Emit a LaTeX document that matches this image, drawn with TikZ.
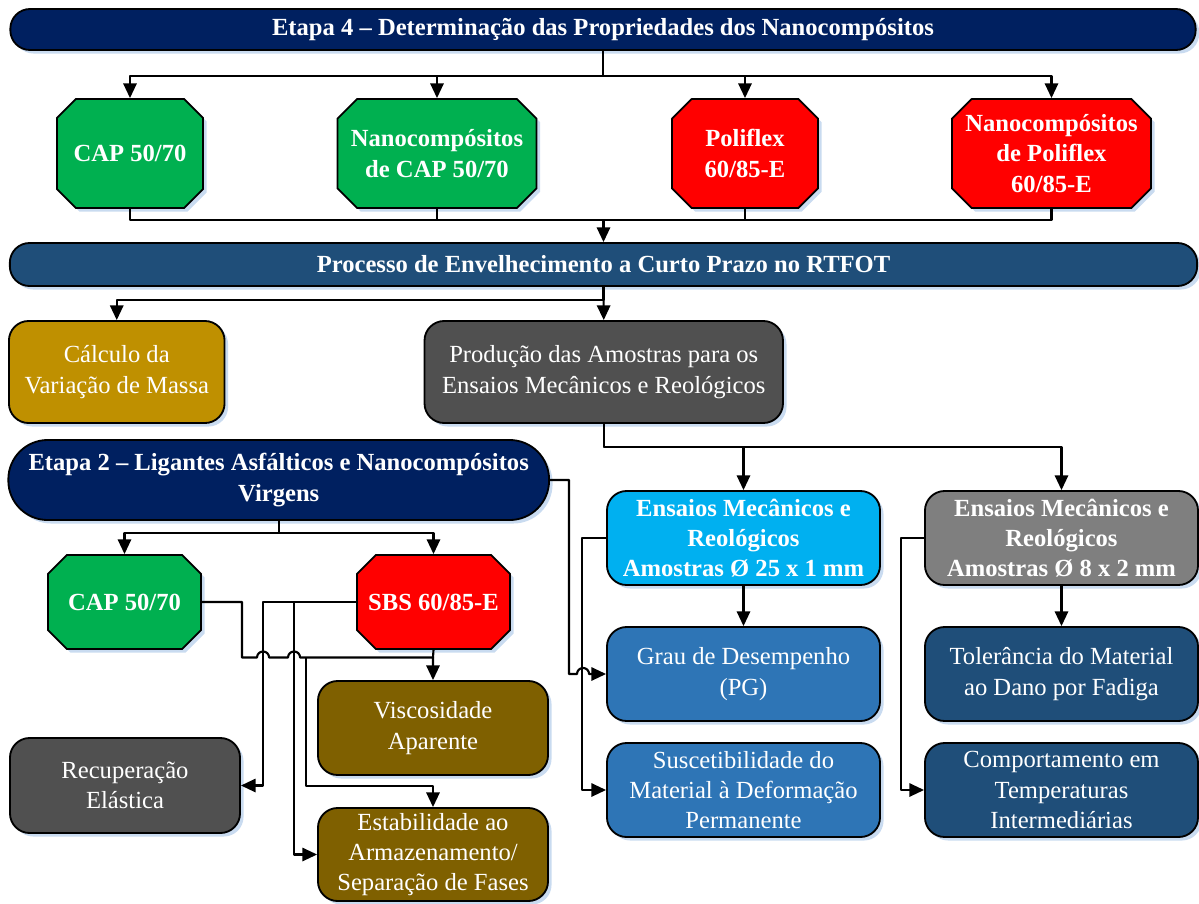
\documentclass[tikz,border=0pt]{standalone}
\usepackage{fontspec}
\setmainfont{Liberation Serif}
\usetikzlibrary{arrows.meta,shapes.misc,shadows}
\definecolor{navyA}{HTML}{002060}
\definecolor{steelB}{HTML}{1F4E79}
\definecolor{greenC}{HTML}{00B050}
\definecolor{goldD}{HTML}{BF9000}
\definecolor{darkE}{HTML}{505050}
\definecolor{cyanF}{HTML}{00B0F0}
\definecolor{grayG}{HTML}{7F7F7F}
\definecolor{blueH}{HTML}{2E75B6}
\definecolor{brownI}{HTML}{7F6000}
\definecolor{shadowJ}{HTML}{C9DBF0}
\begin{document}
\begin{tikzpicture}[x=0.025cm, y=-0.025cm, line width=1.5pt, line join=round,
	>={Triangle[length=10.5pt,width=9.5pt]},
	base/.style={draw=black, line width=1.3pt, text=white, align=center, inner sep=0pt,
		font=\fontsize{17.5}{21.5}\selectfont,
		drop shadow={shadow xshift=2.5pt, shadow yshift=-2.5pt, fill=shadowJ, opacity=1}},
	pill/.style={base, rounded corners=14pt, font=\fontsize{17.5}{21.5}\selectfont\bfseries},
	chbox/.style={base, chamfered rectangle, chamfered rectangle xsep=6.5pt, chamfered rectangle ysep=7.5pt,
		font=\fontsize{17.5}{21.5}\selectfont\bfseries},
	rbox/.style={base, rounded corners=14pt}]
	\useasboundingbox (0,0) rectangle (1199,903);
	% etapa 4
	\node[pill, fill=navyA, minimum width=29.625cm, minimum height=1.025cm] (etapa4) at (603,29.5) {Etapa 4 -- Determinação das Propriedades dos Nanocompósitos};
	\node[chbox, fill=greenC, minimum width=3.65cm, minimum height=2.725cm] (cap1) at (130,153.5) {CAP 50/70};
	\node[chbox, fill=greenC, minimum width=4.975cm, minimum height=2.725cm] (nano1) at (437,153.5) {Nanocompósitos\\de CAP 50/70};
	\node[chbox, fill=red, minimum width=3.65cm, minimum height=2.725cm] (poli) at (745,153.5) {Poliflex\\60/85-E};
	\node[chbox, fill=red, minimum width=4.975cm, minimum height=2.725cm] (nano2) at (1051.5,153.5) {Nanocompósitos\\de Poliflex\\60/85-E};
	\foreach \n in {cap1,nano1,poli,nano2}
		\draw[->] (etapa4.south) -- ++(0,25) -| (\n.north);
	% envelhecimento
	\node[pill, fill=steelB, minimum width=29.675cm, minimum height=1.075cm] (rtfot) at (603.5,264.5) {Processo de Envelhecimento a Curto Prazo no RTFOT};
	\coordinate (j1) at (603.5,220);
	\foreach \n in {cap1,nano1,poli,nano2}
		\draw (\n.south) |- (j1);
	\draw[->] (j1) -- (rtfot.north);
	\node[rbox, fill=goldD, minimum width=5.39cm, minimum height=2.55cm] (calc) at (116.75,372) {Cálculo da\\Variação de Massa};
	\node[rbox, fill=darkE, minimum width=8.96cm, minimum height=2.55cm] (prod) at (603.75,372) {Produção das Amostras para os\\Ensaios Mecânicos e Reológicos};
	\draw[->] (rtfot.south) -- (prod.north);
	\draw[->] (rtfot.south) -- ++(0,13) -| (calc.north);
	% ensaios
	\node[rbox, fill=cyanF, minimum width=6.825cm, minimum height=2.35cm, font=\fontsize{17.5}{21.5}\selectfont\bfseries] (ens25) at (743.5,538) {Ensaios Mecânicos e\\Reológicos\\Amostras Ø 25 x 1 mm};
	\node[rbox, fill=grayG, minimum width=6.825cm, minimum height=2.35cm, font=\fontsize{17.5}{21.5}\selectfont\bfseries] (ens8) at (1061.5,538) {Ensaios Mecânicos e\\Reológicos\\Amostras Ø 8 x 2 mm};
	\draw[->] (prod.south) -- ++(0,23) -| (ens25.north);
	\draw[->] (prod.south) -- ++(0,23) -| (ens8.north);
	\node[rbox, fill=blueH, minimum width=6.825cm, minimum height=2.35cm] (grau) at (743.5,674) {Grau de Desempenho\\(PG)};
	\node[rbox, fill=blueH, minimum width=6.825cm, minimum height=2.35cm] (susc) at (743.5,790) {Suscetibilidade do\\Material à Deformação\\Permanente};
	\node[rbox, fill=steelB, minimum width=6.825cm, minimum height=2.35cm] (toler) at (1061.5,674) {Tolerância do Material\\ao Dano por Fadiga};
	\node[rbox, fill=steelB, minimum width=6.825cm, minimum height=2.35cm] (comp) at (1061.5,790) {Comportamento em\\Temperaturas\\Intermediárias};
	\draw[->] (ens25.south) -- (grau.north);
	\draw[->] (ens8.south) -- (toler.north);
	\draw[->] (ens25.west) -- ++(-24,0) |- (susc.west);
	\draw[->] (ens8.west) -- ++(-23.5,0) |- (comp.west);
	% etapa 2
	\node[pill, fill=navyA, rounded corners=28pt, minimum width=13.515cm, minimum height=2cm] (etapa2) at (278.7,480) {Etapa 2 -- Ligantes Asfálticos e Nanocompósitos\\Virgens};
	\coordinate (h1) at (569,674);
	\draw[->] (etapa2.east) -| (h1) -- (577,674) arc[start angle=180, end angle=0, radius=4.3pt] -- (grau.west);
	\node[chbox, fill=greenC, minimum width=3.825cm, minimum height=2.35cm] (cap2) at (124.5,602) {CAP 50/70};
	\node[chbox, fill=red, minimum width=3.825cm, minimum height=2.35cm] (sbs) at (433.5,602) {SBS 60/85-E};
	\draw[->] (etapa2.south) -- ++(0,12) -| (cap2.north);
	\draw[->] (etapa2.south) -- ++(0,12) -| (sbs.north);
	\node[rbox, fill=brownI, minimum width=5.75cm, minimum height=2.35cm] (visc) at (433,728) {Viscosidade\\Aparente};
	\node[rbox, fill=brownI, minimum width=5.75cm, minimum height=2.325cm] (estab) at (433,854.5) {Estabilidade ao\\Armazenamento/\\Separação de Fases};
	\node[rbox, fill=darkE, minimum width=5.75cm, minimum height=2.375cm] (recup) at (125,785.5) {Recuperação\\Elástica};
	\draw[->] (sbs.west) -- (263,602) |- (recup.east);
	\draw[->] (294,602) |- (estab.west);
	\draw[->] (cap2.east) -- (242,602) -- (242,657.5) -- (257,657.5) arc[start angle=180, end angle=0, radius=4.3pt]
		-- (288,657.5) arc[start angle=180, end angle=0, radius=4.3pt] -- (433,657.5) -- (visc.north);
	\draw (sbs.south) -- (433,657.5);
	\draw[->] (306,657.5) -- (306,786) -| (estab.north);
\end{tikzpicture}
\end{document}
